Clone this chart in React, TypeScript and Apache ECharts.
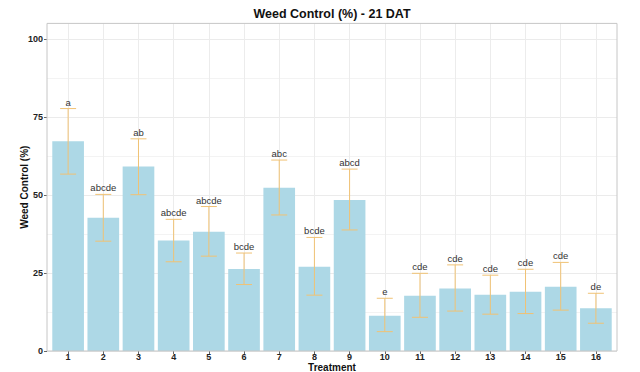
import React, { useEffect, useRef } from "react";
import * as echarts from "echarts";

const treatments = ["1", "2", "3", "4", "5", "6", "7", "8", "9", "10", "11", "12", "13", "14", "15", "16"];
const meanControl = [67.2, 42.7, 59.1, 35.4, 38.2, 26.3, 52.3, 27.0, 48.4, 11.3, 17.7, 20.0, 18.0, 19.0, 20.6, 13.7];
const errLow = [56.7, 35.2, 50.1, 28.6, 30.4, 21.3, 43.6, 17.9, 38.8, 6.2, 10.8, 12.8, 11.8, 12.0, 13.1, 8.9];
const errHigh = [77.7, 50.2, 68.0, 42.2, 46.3, 31.4, 61.2, 36.4, 58.3, 16.9, 24.9, 27.6, 24.3, 26.2, 28.4, 18.5];
const letters = ["a", "abcde", "ab", "abcde", "abcde", "bcde", "abc", "bcde", "abcd", "e", "cde", "cde", "cde", "cde", "cde", "de"];
const yTicks = [0, 25, 50, 75, 100];

const FONT = "'Liberation Sans', Arial, sans-serif";

export default function App() {
  const ref = useRef<HTMLDivElement>(null);
  useEffect(() => {
    document.body.style.margin = "0";
    const chart = echarts.init(ref.current!, null, { renderer: "svg" });

    const W = 640;
    const panelL = 47;
    const panelR = 617;
    const panelT = 23.4;
    const panelB = 351;
    const u = (panelR - panelL) / 16.2;
    const c1 = panelL + 0.6 * u;
    const c16 = c1 + 15 * u;

    const option: any = {
      animation: false,
      backgroundColor: "#ffffff",
      textStyle: { fontFamily: FONT },
      grid: [
        { left: panelL + 0.1 * u, right: W - (panelR - 0.1 * u), top: panelT, bottom: 372 - panelB, containLabel: false, outerBoundsMode: "none" },
        { left: c1, right: W - c16, top: panelT, bottom: 372 - panelB, containLabel: false, outerBoundsMode: "none" },
        { left: panelL, right: W - panelR, top: 39, bottom: 372 - panelB, containLabel: false, outerBoundsMode: "none" },
      ],
      xAxis: [
        {
          type: "category",
          gridIndex: 0,
          data: treatments,
          axisLine: { show: false },
          axisTick: { show: true, alignWithLabel: true, length: 3, lineStyle: { color: "#666" } },
          axisLabel: { fontFamily: FONT, fontWeight: "bold", fontSize: 9, color: "#222", margin: 1.5 },
          splitLine: { show: false },
        },
        {
          type: "value",
          gridIndex: 1,
          min: 1,
          max: 16,
          interval: 1,
          axisLine: { show: false },
          axisTick: { show: false },
          axisLabel: { show: false },
          splitLine: { show: true, lineStyle: { color: "#ececec", width: 1 } },
        },
        {
          type: "value",
          gridIndex: 2,
          show: false,
          min: 0,
          max: 1,
        },
      ],
      yAxis: [
        {
          type: "value",
          gridIndex: 0,
          min: 0,
          max: 105,
          interval: 25,
          show: false,
        },
        {
          type: "value",
          gridIndex: 1,
          show: false,
          min: 0,
          max: 1,
        },
        {
          type: "value",
          gridIndex: 2,
          min: 0,
          max: 100,
          interval: 25,
          axisLine: { show: false },
          axisTick: { show: true, length: 3, lineStyle: { color: "#666" }, customValues: yTicks },
          axisLabel: { fontFamily: FONT, fontWeight: "bold", fontSize: 9, color: "#222", margin: 4, customValues: yTicks },
          splitLine: { show: true, lineStyle: { color: "#ebebeb", width: 1 } },
          minorTick: { show: false, splitNumber: 2 },
          minorSplitLine: { show: true, lineStyle: { color: "#f3f3f3", width: 1 } },
        },
      ],
      graphic: [
        {
          type: "text",
          x: (panelL + panelR) / 2,
          y: 14,
          style: {
            text: "Weed Control (%) - 21 DAT",
            fontFamily: FONT,
            fontWeight: "bold",
            fontSize: 12.5,
            fill: "#111",
            textAlign: "center",
            textVerticalAlign: "middle",
          },
        },
        {
          type: "text",
          x: (panelL + panelR) / 2,
          y: 367,
          style: {
            text: "Treatment",
            fontFamily: FONT,
            fontWeight: "bold",
            fontSize: 10,
            fill: "#111",
            textAlign: "center",
            textVerticalAlign: "middle",
          },
        },
        {
          type: "text",
          x: 24,
          y: (panelT + panelB) / 2,
          rotation: Math.PI / 2,
          style: {
            text: "Weed Control (%)",
            fontFamily: FONT,
            fontWeight: "bold",
            fontSize: 10,
            fill: "#111",
            textAlign: "center",
            textVerticalAlign: "middle",
          },
        },
        {
          type: "rect",
          z: 100,
          silent: true,
          shape: { x: panelL, y: panelT, width: panelR - panelL, height: panelB - panelT },
          style: { fill: "none", stroke: "#c6c6c6", lineWidth: 1 },
        },
      ],
      series: [
        {
          type: "bar",
          xAxisIndex: 0,
          yAxisIndex: 0,
          data: meanControl,
          barCategoryGap: "10%",
          itemStyle: { color: "#add8e6" },
          z: 2,
        },
        {
          type: "custom",
          xAxisIndex: 0,
          yAxisIndex: 0,
          z: 3,
          data: treatments.map((_, i) => [i, errLow[i], errHigh[i]]),
          encode: { x: 0, y: [1, 2] },
          renderItem: (params: any, api: any) => {
            const idx = api.value(0);
            const lo = api.coord([idx, api.value(1)]);
            const hi = api.coord([idx, api.value(2)]);
            const cap = 8;
            const stroke = { stroke: "#f0c274", lineWidth: 1 };
            return {
              type: "group",
              children: [
                { type: "line", shape: { x1: hi[0], y1: hi[1], x2: lo[0], y2: lo[1] }, style: stroke },
                { type: "line", shape: { x1: hi[0] - cap, y1: hi[1], x2: hi[0] + cap, y2: hi[1] }, style: stroke },
                { type: "line", shape: { x1: lo[0] - cap, y1: lo[1], x2: lo[0] + cap, y2: lo[1] }, style: stroke },
                {
                  type: "text",
                  x: hi[0],
                  y: hi[1] - 1.5,
                  style: {
                    text: letters[params.dataIndex],
                    fontFamily: FONT,
                    fontSize: 9.5,
                    fill: "#333",
                    textAlign: "center",
                    textVerticalAlign: "bottom",
                  },
                },
              ],
            };
          },
        },
      ],
    };

    chart.setOption(option);
    return () => chart.dispose();
  }, []);

  return <div ref={ref} style={{ width: 640, height: 372 }} />;
}
